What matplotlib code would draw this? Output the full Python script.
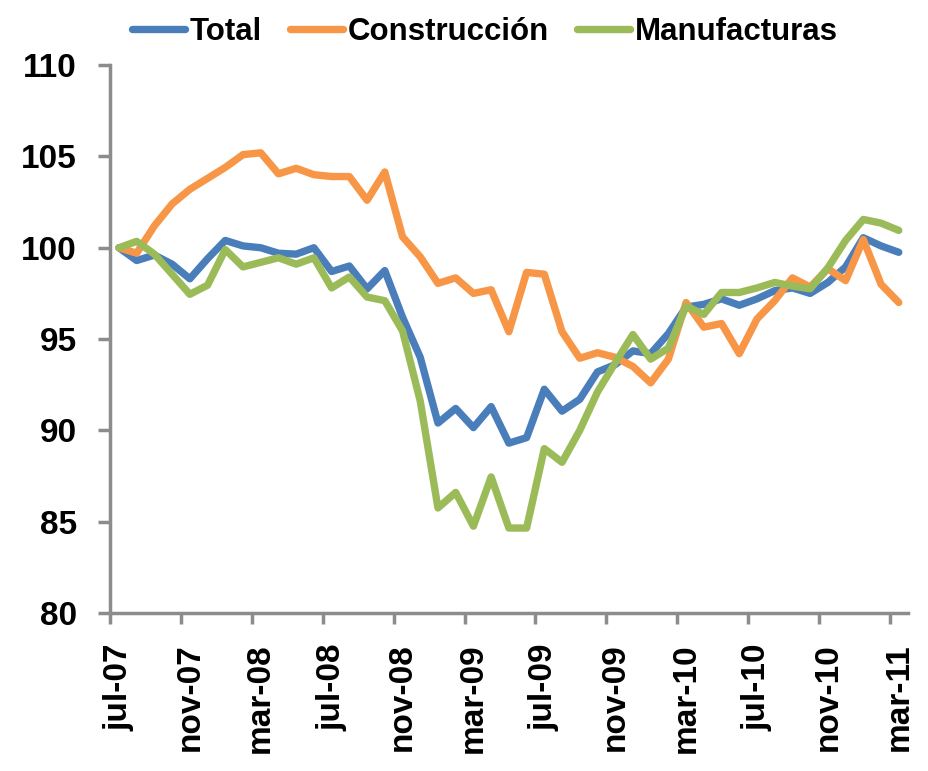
import matplotlib.pyplot as plt
import numpy as np

plt.rcParams['font.family'] = ['Liberation Sans', 'DejaVu Sans']
plt.rcParams['font.weight'] = 'bold'

# Monthly index, jul-07 .. mar-11 (base jul-07 = 100)
total = [100.0, 99.3, 99.6, 99.1, 98.3, 99.4, 100.4, 100.1, 100.0, 99.7,
         99.65, 100.0, 98.7, 99.0, 97.75, 98.75, 96.2, 94.0, 90.4, 91.2,
         90.15, 91.3, 89.3, 89.6, 92.25, 91.05, 91.7, 93.2, 93.6, 94.35,
         94.2, 95.3, 96.75, 96.9, 97.2, 96.85, 97.2, 97.65, 97.8, 97.5,
         98.1, 98.95, 100.55, 100.1, 99.75]
construccion = [100.0, 99.7, 101.2, 102.4, 103.2, 103.8, 104.4, 105.1, 105.2, 104.05,
                104.35, 104.0, 103.9, 103.9, 102.6, 104.15, 100.6, 99.5, 98.05, 98.35,
                97.5, 97.7, 95.4, 98.65, 98.55, 95.4, 93.95, 94.25, 94.0, 93.5,
                92.6, 93.9, 97.0, 95.65, 95.85, 94.2, 96.1, 97.1, 98.35, 97.85,
                98.85, 98.2, 100.45, 98.0, 97.0]
manufacturas = [100.0, 100.35, 99.65, 98.55, 97.45, 97.95, 99.9, 98.95, 99.2, 99.45,
                99.1, 99.45, 97.8, 98.4, 97.3, 97.1, 95.45, 91.6, 85.75, 86.6,
                84.75, 87.45, 84.65, 84.65, 89.0, 88.25, 90.0, 92.1, 93.7, 95.25,
                93.9, 94.5, 96.8, 96.35, 97.55, 97.55, 97.8, 98.1, 97.9, 97.75,
                98.9, 100.4, 101.55, 101.35, 100.95]
labels = ['jul-07', 'nov-07', 'mar-08', 'jul-08', 'nov-08', 'mar-09',
          'jul-09', 'nov-09', 'mar-10', 'jul-10', 'nov-10', 'mar-11']

x = np.arange(len(total))

fig = plt.figure(figsize=(9.29, 7.71), dpi=100)
ax = fig.add_axes([0.1185, 0.205, 0.8585, 0.7105])

style = dict(linewidth=5.3, solid_joinstyle='round', solid_capstyle='round')
ax.plot(x, total, color='#4A7EBB', label='Total', **style)
ax.plot(x, construccion, color='#F79646', label='Construcción', **style)
ax.plot(x, manufacturas, color='#9BBB59', label='Manufacturas', **style)

ax.set_xlim(-0.5, len(total) - 0.5)
ax.set_ylim(80, 110)
ax.set_yticks(range(80, 111, 5))

ax.set_xticks(x[::4])
ax.set_xticklabels(labels, rotation=90, fontsize=24, fontweight='bold')
ax.set_xticks(np.arange(-0.5, len(total) - 1, 4), minor=True)
ax.tick_params(axis='x', which='major', length=0, pad=22)
ax.tick_params(axis='x', which='minor', length=8, width=2.5, color='#8C8C8C')
ax.tick_params(axis='y', length=9, width=2.5, color='#8C8C8C', pad=15, labelsize=24)
for t in ax.get_yticklabels():
    t.set_fontweight('bold')

for side in ['top', 'right']:
    ax.spines[side].set_visible(False)
for side in ['left', 'bottom']:
    ax.spines[side].set_color('#8C8C8C')
    ax.spines[side].set_linewidth(2.5)

leg = fig.legend(loc='upper center', bbox_to_anchor=(0.522, 1.015), ncol=3, frameon=False,
                 fontsize=22.5, handlelength=1.7, handletextpad=0.15, columnspacing=0.9)
for t in leg.get_texts():
    t.set_fontweight('bold')
for h in leg.legend_handles:
    h.set_solid_capstyle('round')

fig.savefig('out.png', dpi=100)
